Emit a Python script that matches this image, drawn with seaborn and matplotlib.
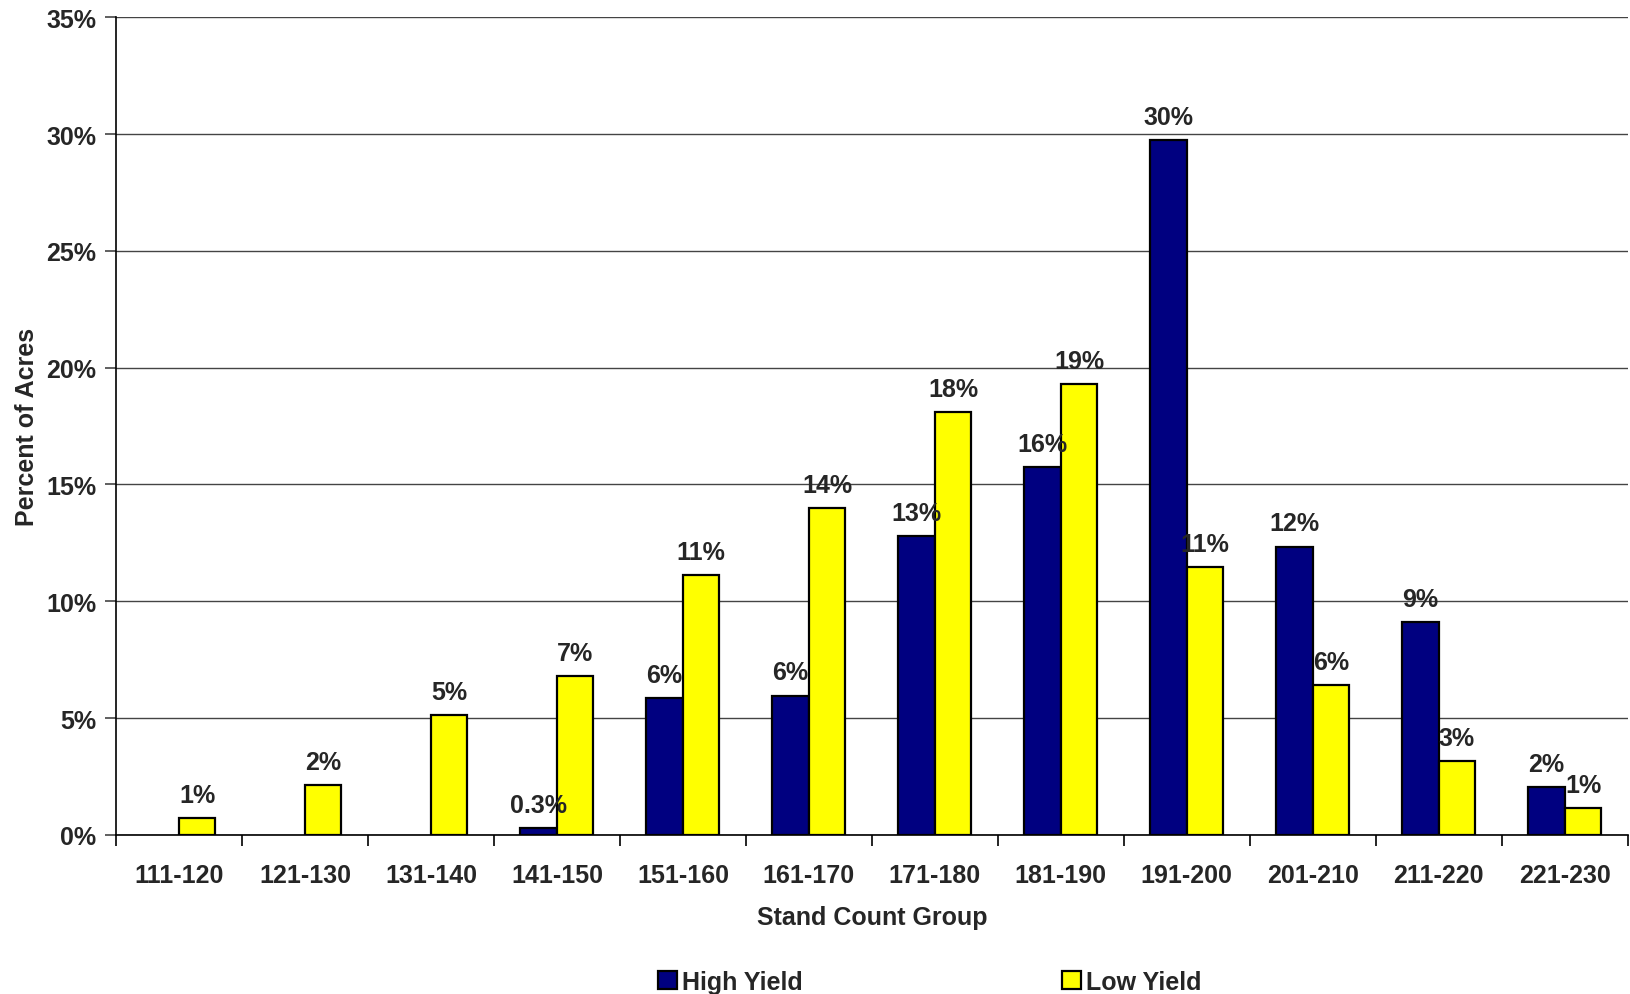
import numpy as np
import pandas as pd
import matplotlib
matplotlib.use("Agg")
import matplotlib.pyplot as plt
from matplotlib.patches import Patch
from matplotlib.ticker import FixedLocator, PercentFormatter
import seaborn as sns

# values (percent of acres)
groups = ["111-120", "121-130", "131-140", "141-150", "151-160", "161-170",
          "171-180", "181-190", "191-200", "201-210", "211-220", "221-230"]
high_yield = [np.nan, np.nan, np.nan, 0.27, 5.87, 5.96, 12.8, 15.74, 29.74, 12.34, 9.12, 2.04]
low_yield = [0.71, 2.13, 5.11, 6.80, 11.12, 14.0, 18.1, 19.3, 11.47, 6.41, 3.17, 1.13]
high_labels = ["", "", "", "0.3%", "6%", "6%", "13%", "16%", "30%", "12%", "9%", "2%"]
low_labels = ["1%", "2%", "5%", "7%", "11%", "14%", "18%", "19%", "11%", "6%", "3%", "1%"]
series = ["High Yield", "Low Yield"]
colors = ["#000080", "#FFFF00"]

df = pd.DataFrame({
    "group": groups * 2,
    "yield": [series[0]] * len(groups) + [series[1]] * len(groups),
    "pct": high_yield + low_yield,
})

sns.set_style("white")
plt.rcParams["font.family"] = ["Liberation Sans", "DejaVu Sans"]
plt.rcParams["font.weight"] = "bold"

fig = plt.figure(figsize=(16.31, 9.95), dpi=100)
ax = fig.add_axes([0.0711, 0.160, 0.9269, 0.8216])

sns.barplot(data=df, x="group", y="pct", hue="yield", hue_order=series,
            order=groups, palette=colors, saturation=1, width=0.58, gap=0,
            edgecolor="black", linewidth=1.6, ax=ax, legend=False)

# value labels above each bar
for cont, labels in zip(ax.containers, [high_labels, low_labels]):
    for bar in cont.patches:
        if bar is None:
            continue
        i = int(round(bar.get_x() + bar.get_width() / 2))
        if not labels[i]:
            continue
        ax.annotate(labels[i], (bar.get_x() + bar.get_width() / 2, bar.get_height()),
                    xytext=(0, 8), textcoords="offset points", ha="center", va="bottom",
                    fontsize=18, fontweight="bold")

ax.set_ylim(0, 35)
ax.set_xlim(-0.5, len(groups) - 0.5)
ax.yaxis.set_major_locator(FixedLocator(np.arange(0, 36, 5)))
ax.yaxis.set_major_formatter(PercentFormatter(decimals=0))
ax.grid(axis="y", color="#444444", linewidth=1)
ax.set_axisbelow(True)

for s in ["top", "right"]:
    ax.spines[s].set_visible(False)
for s in ["left", "bottom"]:
    ax.spines[s].set_color("black")
    ax.spines[s].set_linewidth(1.2)

ax.tick_params(axis="y", which="major", left=True, length=8, width=1.2,
               color="#444444", labelsize=18, pad=6)
ax.tick_params(axis="x", which="major", bottom=False, labelsize=18, pad=16.5)
ax.xaxis.set_minor_locator(FixedLocator(np.arange(-0.5, len(groups), 1)))
ax.tick_params(axis="x", which="minor", bottom=True, length=8, width=1.2, color="black")
for t in ax.get_xticklabels() + ax.get_yticklabels():
    t.set_fontweight("bold")

ax.set_xlabel("Stand Count Group", fontsize=18, fontweight="bold", labelpad=13)
ax.set_ylabel("Percent of Acres", fontsize=18, fontweight="bold", labelpad=5)

handles = [Patch(facecolor=c, edgecolor="black", linewidth=1.6) for c in colors]
fig.legend(handles, series, loc="center", bbox_to_anchor=(0.57, 0.012), ncol=2,
           frameon=False, handlelength=0.75, handleheight=0.75,
           handletextpad=0.2, columnspacing=10.4, prop={"weight": "bold", "size": 18})

fig.savefig("out.png", dpi=100)
